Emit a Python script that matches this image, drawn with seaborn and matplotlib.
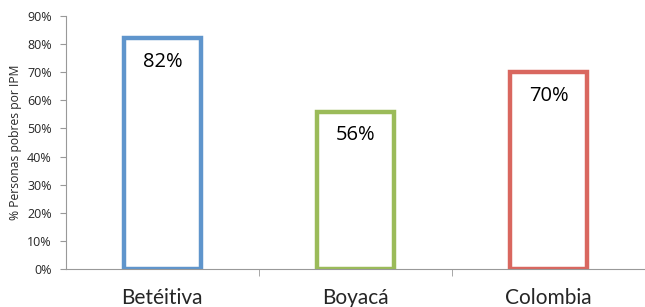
import matplotlib
matplotlib.use('Agg')
import matplotlib.pyplot as plt
import seaborn as sns
import pandas as pd
from matplotlib.ticker import PercentFormatter, FixedLocator

categorias = ['Betéitiva', 'Boyacá', 'Colombia']
porcentajes = [82, 56, 70]
colores = ['#5F95CC', '#9BBB59', '#D9675F']
y_ticks = [0, 10, 20, 30, 40, 50, 60, 70, 80, 90]

df = pd.DataFrame({'lugar': categorias, 'pct': porcentajes})

sns.set_style('white')
plt.rcParams['font.family'] = ['Open Sans', 'DejaVu Sans']

fig = plt.figure(figsize=(6.45, 3.07), dpi=100)
ax = fig.add_axes([0.102, 0.124, 0.898, 0.824])

sns.barplot(data=df, x='lugar', y='pct', hue='lugar', palette=colores,
            fill=False, width=0.4, linewidth=3.2, legend=False, ax=ax)

# etiquetas dentro de cada barra
for i, v in enumerate(porcentajes):
    ax.annotate(f'{v}%', xy=(i, v), xytext=(0, -17), textcoords='offset points',
                ha='center', va='center', fontsize=14.5, color='black')

ax.set_xlim(-0.5, 2.5)
ax.set_ylim(0, 90)
ax.set_yticks(y_ticks)
ax.yaxis.set_major_formatter(PercentFormatter(decimals=0))
ax.tick_params(axis='y', left=True, length=4, color='#999999', labelsize=9, pad=6)
ax.tick_params(axis='x', which='major', bottom=False, labelsize=15, pad=10)
ax.xaxis.set_minor_locator(FixedLocator([0.5, 1.5]))
ax.tick_params(axis='x', which='minor', bottom=True, length=5, color='#999999')
for lab in ax.get_xticklabels():
    lab.set_family(['Lato', 'DejaVu Sans'])

ax.set_xlabel('')
ax.set_ylabel('% Personas pobres por IPM', fontsize=8.7)
for s in ['top', 'right']:
    ax.spines[s].set_visible(False)
for s in ['left', 'bottom']:
    ax.spines[s].set_color('#999999')
    ax.spines[s].set_linewidth(0.8)

fig.savefig('out.png', dpi=100)
